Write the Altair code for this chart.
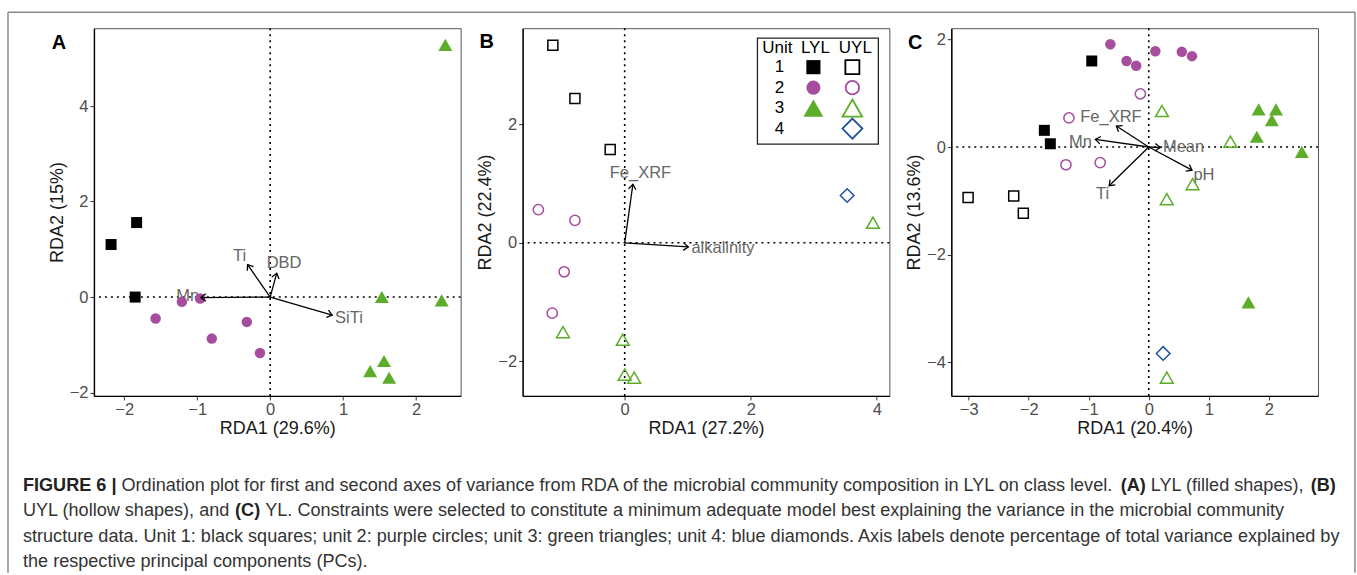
import math
import altair as alt
import pandas as pd

FONT = "Liberation Sans"
W, H = 367, 368

# ---------------- data ----------------
UNITS = ["1", "2", "3", "4"]
SHAPES = ["square", "circle", "triangle-up", "diamond"]
COLORS = ["#000000", "#A64D9F", "#5DAD2A", "#2050A0"]

# Panel A  (LYL, filled shapes)
A_unit = ["1", "1", "1", "2", "2", "2", "2", "2", "2", "3", "3", "3", "3", "3", "3"]
A_x = [-2.18, -1.83, -1.85, -1.57, -1.21, -0.96, -0.80, -0.32, -0.14, 2.40, 1.53, 2.35, 1.56, 1.37, 1.63]
A_y = [1.10, 1.56, 0.00, -0.45, -0.10, -0.03, -0.87, -0.52, -1.17, 5.28, 0.00, -0.07, -1.34, -1.55, -1.69]
A_vec = ["Mn", "Ti", "DBD", "SiTi"]
A_vx = [-0.95, -0.31, 0.09, 0.85]
A_vy = [-0.01, 0.68, 0.50, -0.38]
A_lx = [-1.13, -0.42, 0.19, 1.08]
A_ly = [0.02, 0.86, 0.71, -0.43]

# Panel B  (UYL, hollow shapes)
B_unit = ["1", "1", "1", "2", "2", "2", "2", "3", "3", "3", "3", "3", "4"]
B_x = [-1.14, -0.79, -0.23, -1.37, -0.79, -0.96, -1.15, -0.98, -0.03, 0.00, 0.15, 3.94, 3.53]
B_y = [3.34, 2.44, 1.58, 0.56, 0.38, -0.49, -1.19, -1.51, -1.64, -2.23, -2.28, 0.34, 0.80]
B_vec = ["Fe_XRF", "alkalinity"]
B_vx = [0.13, 1.01]
B_vy = [0.99, -0.07]
B_lx = [0.25, 1.56]
B_ly = [1.18, -0.09]

# Panel C  (YL: LYL filled + UYL hollow)
C_f_unit = ["1", "1", "1", "2", "2", "2", "2", "2", "2", "3", "3", "3", "3", "3", "3"]
C_f_x = [-0.95, -1.74, -1.64, -0.64, -0.37, -0.21, 0.11, 0.55, 0.72, 1.83, 2.12, 2.05, 1.80, 2.55, 1.66]
C_f_y = [1.60, 0.31, 0.06, 1.91, 1.60, 1.51, 1.78, 1.77, 1.69, 0.70, 0.70, 0.50, 0.19, -0.09, -2.89]
C_h_unit = ["1", "1", "1", "2", "2", "2", "2", "3", "3", "3", "3", "3", "4"]
C_h_x = [-3.01, -2.25, -2.09, -0.14, -1.33, -1.38, -0.81, 0.22, 1.36, 0.73, 0.30, 0.30, 0.24]
C_h_y = [-0.94, -0.91, -1.23, 0.99, 0.54, -0.33, -0.29, 0.67, 0.10, -0.69, -0.97, -4.29, -3.84]
C_vec = ["Fe_XRF", "Mn", "Mean", "pH", "Ti"]
C_vx = [-0.54, -0.89, 0.19, 0.72, -0.66]
C_vy = [0.39, 0.14, -0.01, -0.43, -0.72]
C_lx = [-0.63, -1.14, 0.58, 0.92, -0.77]
C_ly = [0.56, 0.10, 0.00, -0.52, -0.87]

# Legend content
LEG_HEAD = ["Unit", "LYL", "UYL"]
LEG_LYL = ["1", "2", "3"]
LEG_UYL = ["1", "2", "3", "4"]

CAPTION = [
    [("FIGURE 6 |", True),
     (" Ordination plot for first and second axes of variance from RDA of the microbial community composition in LYL on class level. ", False),
     ("(A)", True), (" LYL (filled shapes), ", False), ("(B)", True)],
    [("UYL (hollow shapes), and ", False), ("(C)", True),
     (" YL. Constraints were selected to constitute a minimum adequate model best explaining the variance in the microbial community", False)],
    [("structure data. Unit 1: black squares; unit 2: purple circles; unit 3: green triangles; unit 4: blue diamonds. Axis labels denote percentage of total variance explained by", False)],
    [("the respective principal components (PCs).", False)],
]

# ---------------- styling ----------------
SIZE_MAP = {"1F": 121, "2F": 110, "3F": 196, "1H": 100, "2H": 105, "3H": 165, "4H": 185,
            "L1F": 200, "L2F": 200, "L3F": 400, "L1H": 196, "L2H": 180, "L3H": 390, "L4H": 400}
ARROW = "M -1 -0.75 L 0 0 L -1 0.75"

COLOR = alt.Color("unit:N", scale=alt.Scale(domain=UNITS, range=COLORS), legend=None)
SHAPE = alt.Shape("unit:N", scale=alt.Scale(domain=UNITS, range=SHAPES), legend=None)
SIZE = alt.Size("sz:Q", scale=None, legend=None)

# Arial / Liberation Sans advance widths (1/1000 em)
REG = dict(zip("abcdefghijklmnopqrstuvwxyz",
               [556, 556, 500, 556, 556, 278, 556, 556, 222, 222, 500, 222, 833, 556, 556, 556, 556, 333, 500, 278, 556, 500, 722, 500, 500, 500]))
REG.update(dict(zip("ABCDEFGHIJKLMNOPQRSTUVWXYZ",
                    [667, 667, 722, 722, 667, 611, 778, 722, 278, 500, 667, 556, 833, 722, 778, 667, 778, 722, 667, 611, 722, 667, 944, 667, 667, 611])))
REG.update({" ": 278, "(": 333, ")": 333, ",": 278, ".": 278, ";": 278, ":": 278, "|": 260, "_": 556})
for d in "0123456789":
    REG[d] = 556
BOLD = dict(REG)
BOLD.update({"A": 722, "B": 722, "C": 722, "E": 667, "F": 611, "G": 778, "I": 278, "R": 722, "U": 722, "|": 280})

CAP_SIZE = 18.1


def text_w(s, bold):
    tbl = BOLD if bold else REG
    return sum(tbl.get(ch, 556) for ch in s) * CAP_SIZE / 1000.0


def pts_df(units, xs, ys, suffix):
    df = pd.DataFrame({"unit": units, "x": xs, "y": ys})
    df["sz"] = [SIZE_MAP[u + suffix] for u in units]
    return df


def vec_df(names, vx, vy, lx, ly):
    return pd.DataFrame({"name": names, "vx": vx, "vy": vy, "lx": lx, "ly": ly})


def panel(f_pts, h_pts, vec, xdom, ydom, xticks, yticks, xtitle, ytitle, letter, letter_xy, extras=()):
    xs = alt.Scale(domain=xdom, nice=False, zero=False)
    ys = alt.Scale(domain=ydom, nice=False, zero=False)
    xax = alt.Axis(values=xticks, title=xtitle, format="d")
    yax = alt.Axis(values=yticks, title=ytitle, format="d")

    def X(f):
        return alt.X(f"{f}:Q", scale=xs, axis=xax)

    def Y(f):
        return alt.Y(f"{f}:Q", scale=ys, axis=yax)

    kx = W / (xdom[1] - xdom[0])
    ky = H / (ydom[1] - ydom[0])
    vec = vec.copy()
    vec["x0"] = 0.0
    vec["y0"] = 0.0
    vec["ang"] = [math.degrees(math.atan2(-b * ky, a * kx)) % 360 for a, b in zip(vec["vx"], vec["vy"])]

    layers = [
        alt.Chart(pd.DataFrame({"zx": [0.0]})).mark_rule(color="black", strokeWidth=1.6, strokeDash=[2, 4]).encode(x=X("zx")),
        alt.Chart(pd.DataFrame({"zy": [0.0]})).mark_rule(color="black", strokeWidth=1.6, strokeDash=[2, 4]).encode(y=Y("zy")),
        alt.Chart(vec).mark_text(color="#666666", fontSize=16.5, align="center", baseline="middle").encode(
            x=X("lx"), y=Y("ly"), text="name:N"),
    ]
    if f_pts is not None:
        layers.append(alt.Chart(f_pts).mark_point(filled=True, opacity=1).encode(
            x=X("x"), y=Y("y"), color=COLOR, shape=SHAPE, size=SIZE))
    if h_pts is not None:
        layers.append(alt.Chart(h_pts).mark_point(filled=False, opacity=1, strokeWidth=1.5).encode(
            x=X("x"), y=Y("y"), color=COLOR, shape=SHAPE, size=SIZE))
    layers.append(alt.Chart(vec).mark_rule(color="black", strokeWidth=1.3).encode(
        x=X("x0"), y=Y("y0"), x2=alt.X2("vx:Q"), y2=alt.Y2("vy:Q")))
    layers.append(alt.Chart(vec).mark_point(shape=ARROW, filled=False, color="black", strokeWidth=1.3,
                                            size=100, opacity=1).encode(
        x=X("vx"), y=Y("vy"), angle=alt.Angle("ang:Q", scale=None)))
    layers.append(alt.Chart(pd.DataFrame({"t": [letter]})).mark_text(
        fontSize=20, fontWeight="bold", color="black", align="center", baseline="middle").encode(
        x=alt.value(letter_xy[0]), y=alt.value(letter_xy[1]), text="t:N"))
    layers.extend(extras)
    return alt.layer(*layers).properties(width=W, height=H)


PX = alt.X("px:Q", scale=None, axis=None)
PY = alt.Y("py:Q", scale=None, axis=None)

# ---- legend (inside panel B) ----
L_LEFT, L_RIGHT, L_TOP, L_BOTTOM = 235, 356, 10, 116
COL_UNIT, COL_LYL, COL_UYL = 257, 291, 330
ROW0, ROW_STEP = 39, 20.5
leg_txt = pd.DataFrame({
    "txt": LEG_HEAD + LEG_UYL,
    "px": [255, 293, 333] + [COL_UNIT] * len(LEG_UYL),
    "py": [20] * 3 + [ROW0 + i * ROW_STEP for i in range(len(LEG_UYL))],
})
leg_f = pd.DataFrame({"unit": LEG_LYL, "px": [COL_LYL] * len(LEG_LYL),
                      "py": [ROW0 + i * ROW_STEP for i in range(len(LEG_LYL))]})
leg_f["sz"] = [SIZE_MAP["L" + u + "F"] for u in LEG_LYL]
leg_h = pd.DataFrame({"unit": LEG_UYL, "px": [COL_UYL] * len(LEG_UYL),
                      "py": [ROW0 + i * ROW_STEP for i in range(len(LEG_UYL))]})
leg_h["sz"] = [SIZE_MAP["L" + u + "H"] for u in LEG_UYL]

legend_layers = [
    alt.Chart(pd.DataFrame({"k": [0]})).mark_rect(fill="white", stroke="#222222", strokeWidth=1.3).encode(
        x=alt.value(L_LEFT), x2=alt.value(L_RIGHT), y=alt.value(L_TOP), y2=alt.value(L_BOTTOM)),
    alt.Chart(leg_txt).mark_text(fontSize=17, color="black", align="center", baseline="middle").encode(
        x=PX, y=PY, text="txt:N"),
    alt.Chart(leg_f).mark_point(filled=True, opacity=1).encode(x=PX, y=PY, color=COLOR, shape=SHAPE, size=SIZE),
    alt.Chart(leg_h).mark_point(filled=False, opacity=1, strokeWidth=1.8).encode(
        x=PX, y=PY, color=COLOR, shape=SHAPE, size=SIZE),
]

# ---- caption + outer frame (drawn from panel A's origin) ----
CAP_X0, CAP_Y0, CAP_STEP = -71, 458, 25.5
rows = []
for i, line in enumerate(CAPTION):
    x = CAP_X0
    for txt, bold in line:
        lead = len(txt) - len(txt.lstrip(" "))
        x_start = x + text_w(" " * lead, bold)
        rows.append({"txt": txt.strip(" "), "px": x_start, "py": CAP_Y0 + i * CAP_STEP, "bold": bold})
        x += text_w(txt, bold)
cap = pd.DataFrame(rows)
caption_layers = [
    alt.Chart(cap[~cap["bold"]]).mark_text(fontSize=CAP_SIZE, color="#333333", align="left", baseline="middle").encode(
        x=PX, y=PY, text="txt:N"),
    alt.Chart(cap[cap["bold"]]).mark_text(fontSize=CAP_SIZE, fontWeight="bold", color="#222222", align="left",
                                          baseline="middle").encode(x=PX, y=PY, text="txt:N"),
]
FR_L, FR_R, FR_T, FR_B = -86, 1262, -16, 545
frame_src = pd.DataFrame({"k": [0]})
frame_layers = [
    alt.Chart(frame_src).mark_rule(color="#8a8a8a", strokeWidth=1.5).encode(
        x=alt.value(FR_L), x2=alt.value(FR_R), y=alt.value(FR_T), y2=alt.value(FR_T)),
    alt.Chart(frame_src).mark_rule(color="#8a8a8a", strokeWidth=1.5).encode(
        x=alt.value(FR_L), y=alt.value(FR_T), y2=alt.value(FR_B)),
    alt.Chart(frame_src).mark_rule(color="#8a8a8a", strokeWidth=1.5).encode(
        x=alt.value(FR_R), y=alt.value(FR_T), y2=alt.value(FR_B)),
]

panelA = panel(pts_df(A_unit, A_x, A_y, "F"), None, vec_df(A_vec, A_vx, A_vy, A_lx, A_ly),
               [-2.415, 2.61], [-2.07, 5.63], [-2, -1, 0, 1, 2], [-2, 0, 2, 4],
               "RDA1 (29.6%)", "RDA2 (15%)", "A", (-35, 15), frame_layers + caption_layers)
panelB = panel(None, pts_df(B_unit, B_x, B_y, "H"), vec_df(B_vec, B_vx, B_vy, B_lx, B_ly),
               [-1.62, 4.20], [-2.59, 3.63], [0, 2, 4], [-2, 0, 2],
               "RDA1 (27.2%)", "RDA2 (22.4%)", "B", (-36, 14), legend_layers)
panelC = panel(pts_df(C_f_unit, C_f_x, C_f_y, "F"), pts_df(C_h_unit, C_h_x, C_h_y, "H"),
               vec_df(C_vec, C_vx, C_vy, C_lx, C_ly),
               [-3.29, 2.82], [-4.63, 2.21], [-3, -2, -1, 0, 1, 2], [-4, -2, 0, 2],
               "RDA1 (20.4%)", "RDA2 (13.6%)", "C", (-36, 15))

chart = alt.hconcat(panelA, panelB, panelC, spacing=62, bounds="flush").properties(
    padding={"left": 6, "top": 10, "right": 0, "bottom": 0}
).configure(font=FONT).configure_view(stroke="#555555", strokeWidth=1).configure_axis(
    labelFont=FONT, labelFontSize=16.5, labelColor="#4d4d4d", labelPadding=2, labelFlush=False,
    titleFont=FONT, titleFontSize=18, titleFontWeight="normal", titleColor="#1a1a1a",
    domainColor="black", domainWidth=1.4, tickColor="#333333", tickSize=4, tickWidth=1, grid=False
).configure_axisX(titlePadding=1).configure_axisY(titlePadding=3)

chart.save("out.html", embed_options={"renderer": "svg", "actions": False})
